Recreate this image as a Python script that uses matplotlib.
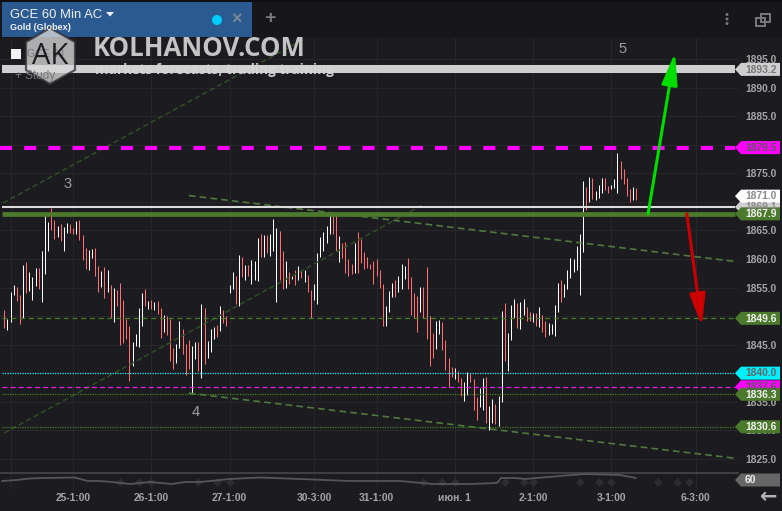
import matplotlib
matplotlib.use("Agg")
import matplotlib.pyplot as plt
from matplotlib.patches import Polygon, Rectangle, Circle, FancyArrowPatch

# ---- data ------------------------------------------------------------------
bar_high = [1851.1,1849.5,1854.2,1855.4,1855.1,1853.7,1858.9,1859.5,1857.7,1856.8,1858.4,1858.4,1861.4,1868.3,1866.5,1869.0,1866.8,1865.8,1866.1,1865.6,
    1866.3,1866.1,1865.4,1866.6,1866.8,1864.2,1861.9,1861.6,1861.7,1861.9,1858.8,1857.9,1858.6,1858.1,1855.4,1854.9,1854.6,1855.8,1852.8,1849.5,
    1848.3,1845.5,1846.9,1851.4,1854.0,1854.7,1852.6,1852.8,1852.5,1852.6,1851.4,1850.2,1850.0,1849.5,1844.4,1845.1,1849.1,1847.7,1845.1,1845.8,
    1844.8,1845.5,1845.5,1852.1,1851.4,1845.6,1847.7,1848.1,1848.4,1851.8,1851.1,1850.0,1855.4,1857.7,1857.0,1860.7,1860.3,1858.9,1858.9,1859.8,
    1859.6,1863.7,
    1864.4,1864.2,1864.2,1864.4,1867.0,1865.4,1864.9,1861.4,1859.6,1857.7,1857.0,1858.1,1858.8,1858.1,1858.1,1857.2,1854.6,1855.6,1861.0,1863.8,
    1864.7,1865.8,1868.0,1868.0,1868.0,1864.0,1862.8,1863.0,1860.0,1859.1,1862.8,1864.7,1863.5,1861.2,1860.3,1859.1,1859.6,1860.0,1858.1,1855.6,
    1851.8,1854.4,1855.8,1856.3,1857.0,1859.1,1858.8,1860.2,1856.8,1854.0,1853.5,1855.1,1855.1,1858.6,1850.0,1847.0,1849.1,1849.3,1849.0,1845.8,
    1842.7,1841.1,1840.9,1840.4,1839.2,1838.5,1840.2,1840.0,1839.0,1835.8,1837.4,1839.2,1839.3,1834.2,1835.5,1834.6,1836.0,1850.9,1852.3,1847.0,
    1851.9,1853.0,1852.3,
    1852.5,1853.0,1851.6,1850.7,1850.5,1850.5,1851.6,1850.2,1849.1,1848.8,1848.6,1851.9,1855.8,1856.3,1855.6,1858.1,1860.2,1860.0,1862.3,1864.4,
    1873.7,1872.6,1874.4,1874.2,1871.9,1873.0,1874.2,1874.2,1872.8,1873.0,1874.0,1878.6,1877.2,1875.8,1874.2,1872.3,1872.6,1872.4]
bar_low = [1847.9,1847.6,1849.0,1853.7,1852.6,1848.6,1849.7,1854.0,1854.4,1852.8,1855.3,1854.7,1852.5,1857.4,1861.4,1865.1,1863.5,1863.8,1863.1,1861.4,
    1864.5,1864.5,1864.4,1864.4,1863.3,1859.8,1858.2,1858.1,1860.2,1857.0,1854.2,1855.1,1853.2,1854.2,1849.7,1849.0,1851.8,1844.9,1845.3,1846.0,
    1838.6,1841.3,1844.8,1844.6,1848.3,1851.8,1851.2,1851.2,1851.1,1850.4,1846.2,1847.2,1846.7,1842.1,1840.7,1841.8,1844.4,1843.4,1839.7,1840.8,
    1836.4,1842.5,1840.4,1839.2,1841.6,1842.6,1843.7,1846.0,1846.3,1847.4,1848.8,1848.3,1854.0,1854.7,1852.1,1851.8,1856.8,1856.3,1857.0,1855.6,
    1856.3,1856.1,
    1860.3,1860.3,1861.0,1860.5,1861.4,1852.5,1856.3,1854.7,1854.9,1855.6,1856.5,1855.4,1856.3,1856.7,1856.0,1854.2,1849.6,1852.8,1852.1,1860.3,
    1861.4,1862.8,1864.4,1864.4,1861.4,1859.5,1860.2,1857.5,1857.0,1857.4,1857.5,1857.5,1859.3,1858.2,1858.4,1858.2,1855.6,1857.0,1854.9,1848.3,
    1848.3,1850.7,1853.3,1853.3,1854.2,1854.7,1856.5,1854.7,1850.2,1849.6,1847.2,1850.7,1849.6,1846.0,1841.3,1842.7,1844.2,1846.9,1844.1,1840.6,
    1837.6,1839.3,1839.0,1838.5,1836.0,1835.1,1836.2,1838.5,1833.5,1831.8,1834.1,1833.5,1831.3,1830.0,1831.3,1831.1,1830.7,1835.0,1842.1,1840.4,
    1845.8,1849.7,1847.9,
    1847.7,1850.2,1849.1,1849.1,1849.0,1848.3,1848.1,1847.2,1846.3,1846.7,1846.9,1846.5,1850.7,1852.5,1853.3,1854.7,1856.7,1857.7,1858.1,1853.7,
    1861.2,1868.6,1870.0,1870.5,1870.3,1870.7,1871.6,1872.1,1871.6,1872.3,1872.4,1871.6,1874.0,1873.1,1871.0,1870.0,1870.3,1870.3]
bar_kind = ("RWWWRRWRWWWRWWWRRWRWWRRWRRRWWRRWRWRWRRRRRWWWWRWRWRRWRRRWWRRRWWRWRWWWRWRRWWRWRWRWWW"
            "RWRWWWRR" "WRWRWRW" "RRWWWWWW" "RRWRRRR" "WRRRRRRR" "RRWWWRW" "WWRRRRWR" "RRRWWRR" "RRWRRWWR" "RRWWRWW" "RWWRWWWR"
            "WWRRWRW" "RRWWWWRW" "WWWWWWRW" "RWWWRRW" "WWRRRRWR")

tick_pos = [2, 22, 47, 72, 99, 119, 144, 169, 194, 221]
tick_txt = ["", "25-1:00", "26-1:00", "27-1:00", "30-3:00", "31-1:00", "июн. 1", "2-1:00", "3-1:00", "6-3:00"]
price_ticks = list(range(1825, 1900, 5))

osc_x = [-0.7,4,8.2,13,22.6,24.2,26.7,30.6,34.4,40.2,46.6,53.6,57.8,62.6,72.1,81.7,94.5,110.5,126.5,137,148.9,157.5,158.8,163.3,166.5,177.6,185.6,196.8,201.9]
osc_y = [59,60,61.5,62,62.5,61,59,59,58,56,58,56,58,58,61,62.5,61,59,59,56,56,57,62,62,61,64,66,65,62]
diamond_x = [37,43,47,62,68,72,134,140,144,160,166,169,184,190,194,209,215,219]

# channel lines: (x0, x1), (p0, p1)
dark_lines = [((-0.4, 96.8), (1869.8, 1898.8)), ((-0.1, 133.5), (1829.5, 1869.4))]
light_lines = [((59.0, 233.0), (1871.1, 1859.6)), ((59.0, 233.6), (1836.5, 1825.1))]

# ---- figure ----------------------------------------------------------------
W, H = 782, 511
BG = "#1b1b20"
GRID = "#26262b"
plt.rcParams["font.family"] = ["Liberation Sans", "DejaVu Sans"]
fig = plt.figure(figsize=(W / 100, H / 100), dpi=100, facecolor=BG)

def box(x0, y0, x1, y1):
    return [x0 / W, 1 - y1 / H, (x1 - x0) / W, (y1 - y0) / H]

ax = fig.add_axes(box(0, 38, 738, 473), facecolor=BG)
pane = fig.add_axes(box(0, 473, 738, 490), facecolor=BG)
xlim = (-1.384, 234.55)
ax.set_xlim(*xlim)
ax.set_ylim(1875 - (473 - 173.3) / 5.71, 1875 + (173.3 - 38) / 5.71)
pane.set_xlim(*xlim)
pane.set_ylim(50, 67)
for s in ax.spines.values():
    s.set_visible(False)
for s in pane.spines.values():
    s.set_visible(False)

ax.yaxis.tick_right()
ax.set_yticks(price_ticks, [f"{p:.1f}" for p in price_ticks], color="#a6a6a6", fontsize=7.4, fontweight="bold")
ax.tick_params(axis="y", length=0, pad=5)
ax.set_xticks(tick_pos, [])
ax.tick_params(axis="x", length=0)
ax.grid(color=GRID, lw=0.8, zorder=0)
ax.set_axisbelow(True)

pane.set_yticks([])
pane.set_xticks(tick_pos, tick_txt, color="#a6a6a6", fontsize=7.4, fontweight="bold")
pane.tick_params(axis="x", length=0, pad=2.5)
pane.grid(axis="x", color=GRID, lw=0.8)
pane.set_axisbelow(True)
pane.axhline(67, color="#46464b", lw=1.2, clip_on=False)
pane.scatter(diamond_x, [58.3] * len(diamond_x), marker="D", s=20, color="#2c2c31", lw=0, zorder=2)
pane.plot(osc_x, osc_y, color="#55555a", lw=1.3, zorder=3)

# bars
xs = list(range(len(bar_high)))
cols = ["#ffffff" if k == "W" else "#ff6f6f" for k in bar_kind]
ax.vlines(xs, bar_low, bar_high, colors=cols, lw=0.72, zorder=2)

# channels
for xx, yy in dark_lines:
    ax.plot(xx, yy, color="#2f4f25", lw=1.1, ls=(0, (3.5, 2)), zorder=3)
for xx, yy in light_lines:
    ax.plot(xx, yy, color="#4f7a3c", lw=1.2, ls=(0, (4, 2.5)), zorder=3)

# levels
x_end = 233.6
ax.hlines(1893.2, -0.7, x_end, color="#cfcfcf", lw=5.8, zorder=4)
ax.hlines(1879.5, -1.3, x_end, color="#ff00ff", lw=2.9, ls=(0, (3, 3)), zorder=4)
ax.hlines(1869.1, -0.7, x_end, color="#dcdcdc", lw=1.5, zorder=4)
ax.hlines(1867.9, -0.7, x_end, color="#4b7a2c", lw=3.4, zorder=4)
ax.hlines(1849.6, -0.7, x_end, color="#43811f", lw=0.9, ls=(0, (4, 3)), zorder=4)
ax.hlines(1840.0, -0.7, x_end, color="#22e6ee", lw=0.9, ls=(0, (1, 1)), zorder=4)
ax.hlines(1837.6, -0.7, x_end, color="#e61ee6", lw=0.9, ls=(0, (4, 2.5)), zorder=4)
ax.hlines(1836.3, -0.7, x_end, color="#43811f", lw=0.9, ls=(0, (1, 1)), zorder=4)
ax.hlines(1830.6, -0.7, x_end, color="#43811f", lw=0.9, ls=(0, (1, 1)), zorder=4)

# wave numbers
for xv, pv, t in [(20.3, 1873.1, "3"), (61.3, 1833.2, "4"), (197.5, 1896.7, "5")]:
    ax.text(xv, pv, t, color="#a0a0a0", fontsize=10.5, ha="center", va="center", zorder=5)

# forecast arrows
ax.add_patch(FancyArrowPatch((205.8, 1867.9), (214.4, 1896.1), arrowstyle="-|>,head_length=1.6,head_width=0.4",
                             mutation_scale=12, color="#00dd00", lw=2.2, shrinkA=0, shrinkB=0, zorder=6))
ax.add_patch(FancyArrowPatch((218.2, 1867.9), (223.0, 1848.3), arrowstyle="-|>,head_length=1.6,head_width=0.4",
                             mutation_scale=12, color="#cc0000", lw=2.2, shrinkA=0, shrinkB=0, zorder=6))

# ---- overlay in pixels: header, tags, watermark ----------------------------
ov = fig.add_axes([0, 0, 1, 1], facecolor="none", zorder=10)
ov.set_xlim(0, W)
ov.set_ylim(H, 0)
ov.axis("off")

ov.add_patch(Rectangle((0, 0), W, 38, color="#17171b", lw=0))
ov.add_patch(Rectangle((0, 0), W, 2, color="#0e0e11", lw=0))
ov.add_patch(Rectangle((2, 2), 250, 35, color="#2b5a90", lw=0))
ov.text(10, 14.5, "GCE 60 Min AC", color="#f0f0f0", fontsize=9.4, va="center")
ov.add_patch(Polygon([(106, 12), (114, 12), (110, 16.5)], color="#f0f0f0", lw=0))
ov.text(10, 27.5, "Gold (Globex)", color="#f0f0f0", fontsize=6.6, fontweight="bold", va="center")
ov.add_patch(Circle((217, 20), 5, color="#00ccff", lw=0))
ov.text(237, 20, "×", color="#7d8794", fontsize=13, fontweight="bold", ha="center", va="center")
ov.text(269.5, 18.5, "+", color="#7c7c80", fontsize=14, fontweight="bold", ha="center", va="center")
for yy in (14.5, 19, 23.5):
    ov.add_patch(Circle((727, yy), 1.5, color="#77777c", lw=0))
ov.add_patch(Rectangle((756, 18), 9, 8, fc="none", ec="#77777c", lw=1.4))
ov.add_patch(Rectangle((761, 14), 9, 8, fc="none", ec="#77777c", lw=1.4))
ov.text(769, 497, "←", color="#b4b4b4", fontsize=15, fontweight="bold", ha="center", va="center", family="DejaVu Sans")

# study box under watermark
ov.add_patch(Rectangle((11, 49), 10, 10, color="#f2f2f2", lw=0))
ov.text(27, 54, "GCE 60", color="#77777c", fontsize=7.5, va="center")
ov.text(15, 76.5, "+ Study", color="#77777c", fontsize=8.5, va="center")

# price tags
def price_y(p):
    return 173.3 + (1875 - p) * 5.71

def tag(y, txt, bg, fg):
    ov.add_patch(Polygon([(735, y), (741, y - 6.5), (780, y - 6.5), (780, y + 6.5), (741, y + 6.5)], color=bg, lw=0))
    ov.text(745, y + 0.3, txt, color=fg, fontsize=7.4, fontweight="bold", va="center")

tag(price_y(1893.2), "1893.2", "#cfcfcf", "#777777")
tag(price_y(1879.5), "1879.5", "#ff00ff", "#5a5a5a")
tag(price_y(1869.1), "1869.1", "#cfcfcf", "#8a8a8a")
tag(price_y(1871.0), "1871.0", "#ffffff", "#8a8a8a")
tag(price_y(1867.9), "1867.9", "#4b7a2c", "#f2f2f2")
tag(price_y(1849.6), "1849.6", "#4b7a2c", "#f2f2f2")
tag(price_y(1840.0), "1840.0", "#00f0ff", "#666666")
tag(price_y(1837.6), "1837.6", "#ff00ff", "#5a5a5a")
tag(price_y(1836.3), "1836.3", "#4b7a2c", "#f2f2f2")
tag(price_y(1830.6), "1830.6", "#4b7a2c", "#f2f2f2")
ov.add_patch(Polygon([(735, 480), (741, 473.5), (780, 473.5), (780, 486.5), (741, 486.5)], color="#666666", lw=0))
ov.text(745, 480.3, "60", color="#f0f0f0", fontsize=7.4, fontweight="bold", va="center")

# watermark
hexagon = [(50, 28), (75, 42), (75, 70), (50, 84), (26, 70), (26, 42)]
ov.add_patch(Polygon(hexagon, fc="#d8d8d8", ec="#303035", alpha=0.78, lw=1.6))
ov.text(50, 56, "AK", color="#1c1c20", fontsize=21, ha="center", va="center", family="Open Sans")
ov.text(93, 49, "KOLHANOV.COM", color="#c4c4c4", fontsize=18.5, fontweight="bold", va="center", family="Open Sans")
ov.text(95, 70, "markets forecasts, trading training", color="#d6d6d6", fontsize=9.8, fontweight="bold", va="center",
        family="Open Sans", alpha=0.95)

assert len(bar_high) == len(bar_low) == len(bar_kind)
fig.savefig("out.png", dpi=100, facecolor=BG)
